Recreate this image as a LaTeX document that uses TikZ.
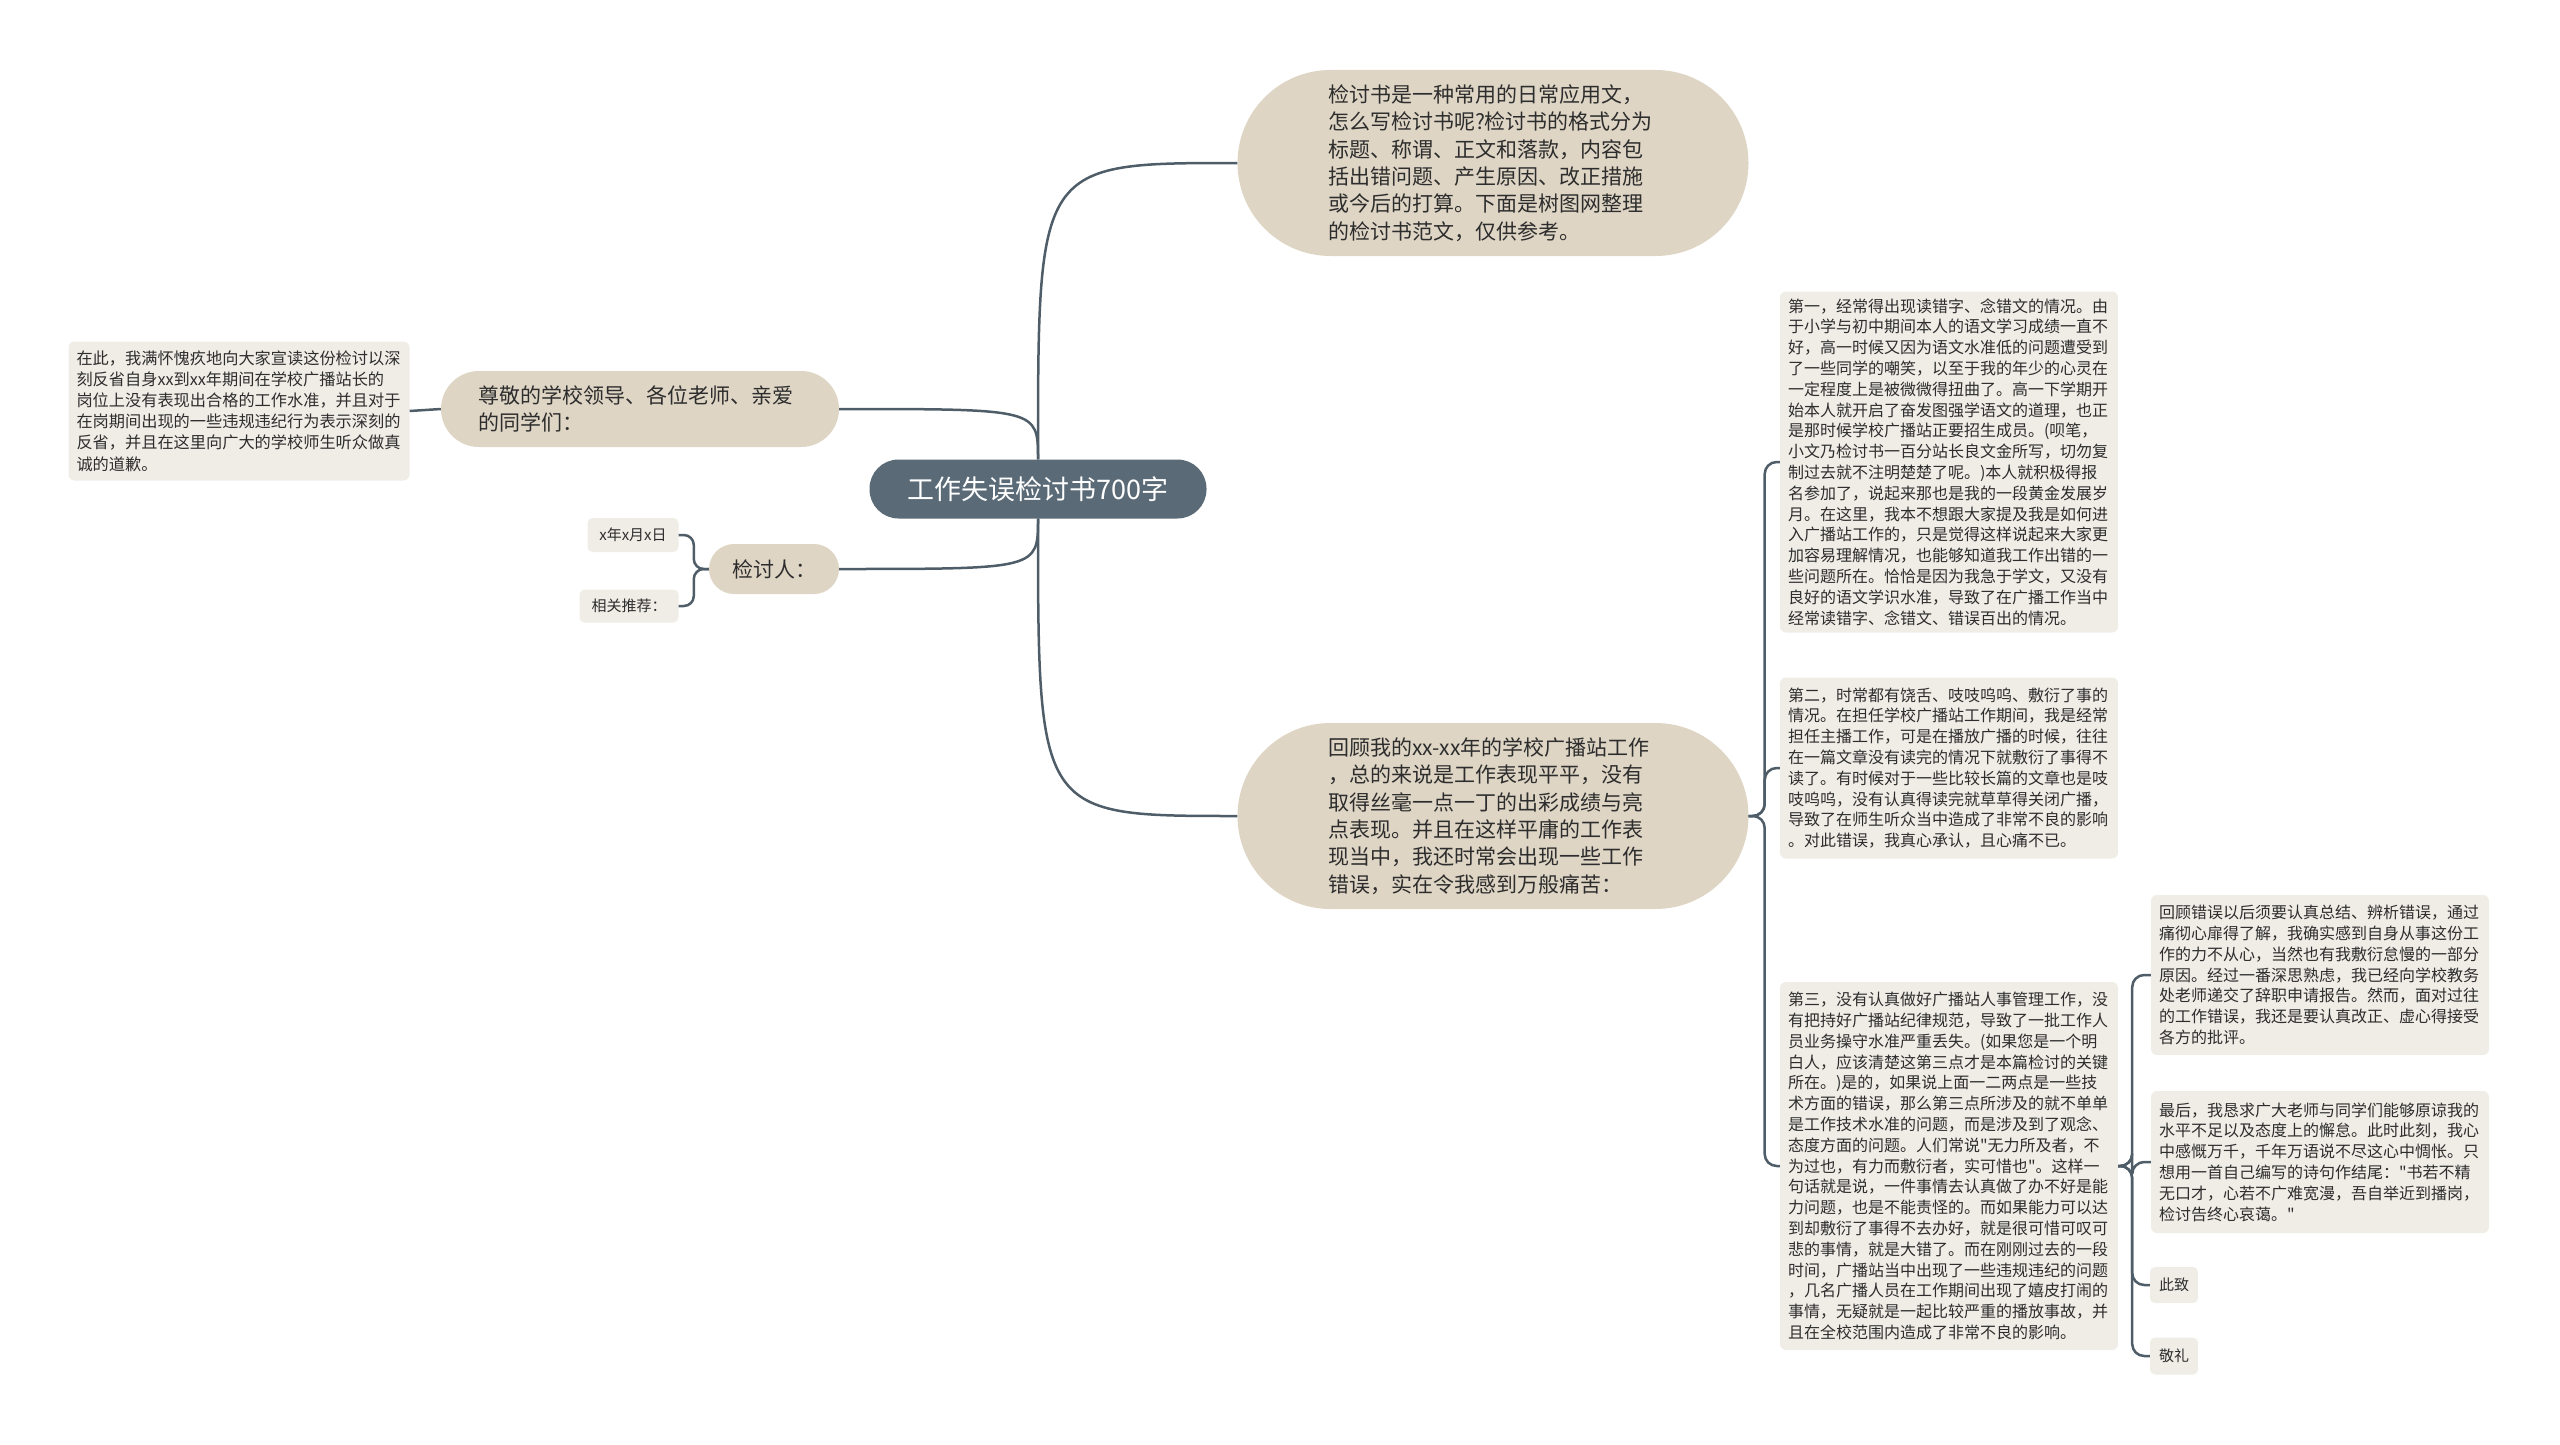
\documentclass[tikz,border=0pt]{standalone}
\usepackage{fontspec}
\setmainfont{Noto Sans CJK SC}
\definecolor{rootfill}{RGB}{90,106,118}
\definecolor{mainfill}{RGB}{222,213,197}
\definecolor{leaffill}{RGB}{240,237,231}
\definecolor{linecol}{RGB}{78,93,104}
\definecolor{textcol}{RGB}{45,45,45}

\begin{document}
\begin{tikzpicture}[x=1pt, y=-1pt,
    link/.style={draw=linecol, line width=2.5pt},
    rootbox/.style={fill=rootfill, text=white, rounded corners=29pt, minimum width=337pt, minimum height=59pt, font=\fontsize{27}{30}\selectfont},
    mainbox/.style={fill=mainfill, text=textcol, rounded corners=93pt, text width=330pt, inner xsep=90.5pt, minimum height=186pt, align=left, font=\fontsize{21}{27.4}\selectfont},
    leafbox/.style={fill=leaffill, text=textcol, rounded corners=6pt, text width=322pt, inner xsep=8pt, align=left, font=\fontsize{16}{20.8}\selectfont},
    tagbox/.style={fill=leaffill, text=textcol, rounded corners=5pt, inner sep=0pt, font=\fontsize{15}{18}\selectfont}]
    \useasboundingbox (0,0) rectangle (2560,1445);

    \node[rootbox] (root) at (1038,489) {工作失误检讨书700字};

    \node[mainbox] (intro) at (1493,163) {检讨书是一种常用的日常应用文，\\怎么写检讨书呢?检讨书的格式分为\\标题、称谓、正文和落款，内容包\\括出错问题、产生原因、改正措施\\或今后的打算。下面是树图网整理\\的检讨书范文，仅供参考。};
    \node[mainbox] (review) at (1493,816) {回顾我的xx-xx年的学校广播站工作\\，总的来说是工作表现平平，没有\\取得丝毫一点一丁的出彩成绩与亮\\点表现。并且在这样平庸的工作表\\现当中，我还时常会出现一些工作\\错误，实在令我感到万般痛苦：};
    \node[mainbox, text width=324pt, inner xsep=37pt, rounded corners=38pt, minimum height=76pt] (greet) at (640,409) {尊敬的学校领导、各位老师、亲爱\\的同学们：};
    \node[mainbox, text width=84pt, inner xsep=23pt, rounded corners=25pt, minimum height=50pt] (signer) at (774,569) {检讨人：};

    \node[leafbox, text width=325pt, minimum height=139pt, font=\fontsize{16.2}{21.2}\selectfont] (apology) at (239,411) {在此，我满怀愧疚地向大家宣读这份检讨以深\\刻反省自身xx到xx年期间在学校广播站长的\\岗位上没有表现出合格的工作水准，并且对于\\在岗期间出现的一些违规违纪行为表示深刻的\\反省，并且在这里向广大的学校师生听众做真\\诚的道歉。};
    \node[tagbox, minimum width=91pt, minimum height=34pt] (date) at (633,535) {x年x月x日};
    \node[tagbox, minimum width=99pt, minimum height=33pt] (related) at (629,606) {相关推荐：};

    \node[leafbox, minimum height=341pt] (first) at (1949,462) {第一，经常得出现读错字、念错文的情况。由\\于小学与初中期间本人的语文学习成绩一直不\\好，高一时候又因为语文水准低的问题遭受到\\了一些同学的嘲笑，以至于我的年少的心灵在\\一定程度上是被微微得扭曲了。高一下学期开\\始本人就开启了奋发图强学语文的道理，也正\\是那时候学校广播站正要招生成员。(呗笔，\\小文乃检讨书一百分站长良文金所写，切勿复\\制过去就不注明楚楚了呢。)本人就积极得报\\名参加了，说起来那也是我的一段黄金发展岁\\月。在这里，我本不想跟大家提及我是如何进\\入广播站工作的，只是觉得这样说起来大家更\\加容易理解情况，也能够知道我工作出错的一\\些问题所在。恰恰是因为我急于学文，又没有\\良好的语文学识水准，导致了在广播工作当中\\经常读错字、念错文、错误百出的情况。};
    \node[leafbox, minimum height=181pt] (second) at (1949,768) {第二，时常都有饶舌、吱吱呜呜、敷衍了事的\\情况。在担任学校广播站工作期间，我是经常\\担任主播工作，可是在播放广播的时候，往往\\在一篇文章没有读完的情况下就敷衍了事得不\\读了。有时候对于一些比较长篇的文章也是吱\\吱呜呜，没有认真得读完就草草得关闭广播，\\导致了在师生听众当中造成了非常不良的影响\\。对此错误，我真心承认，且心痛不已。};
    \node[leafbox, minimum height=368pt] (third) at (1949,1166) {第三，没有认真做好广播站人事管理工作，没\\有把持好广播站纪律规范，导致了一批工作人\\员业务操守水准严重丢失。(如果您是一个明\\白人，应该清楚这第三点才是本篇检讨的关键\\所在。)是的，如果说上面一二两点是一些技\\术方面的错误，那么第三点所涉及的就不单单\\是工作技术水准的问题，而是涉及到了观念、\\态度方面的问题。人们常说\textquotedbl 无力所及者，不\\为过也，有力而敷衍者，实可惜也\textquotedbl 。这样一\\句话就是说，一件事情去认真做了办不好是能\\力问题，也是不能责怪的。而如果能力可以达\\到却敷衍了事得不去办好，就是很可惜可叹可\\悲的事情，就是大错了。而在刚刚过去的一段\\时间，广播站当中出现了一些违规违纪的问题\\，几名广播人员在工作期间出现了嬉皮打闹的\\事情，无疑就是一起比较严重的播放事故，并\\且在全校范围内造成了非常不良的影响。};

    \node[leafbox, minimum height=160pt] (reflect) at (2320,975) {回顾错误以后须要认真总结、辨析错误，通过\\痛彻心扉得了解，我确实感到自身从事这份工\\作的力不从心，当然也有我敷衍怠慢的一部分\\原因。经过一番深思熟虑，我已经向学校教务\\处老师递交了辞职申请报告。然而，面对过往\\的工作错误，我还是要认真改正、虚心得接受\\各方的批评。};
    \node[leafbox, minimum height=142pt] (last) at (2320,1162) {最后，我恳求广大老师与同学们能够原谅我的\\水平不足以及态度上的懈怠。此时此刻，我心\\中感慨万千，千年万语说不尽这心中惆怅。只\\想用一首自己编写的诗句作结尾：\textquotedbl 书若不精\\无口才，心若不广难宽漫，吾自举近到播岗，\\检讨告终心哀蔼。\textquotedbl};
    \node[tagbox, minimum width=48pt, minimum height=36pt] (cizhi) at (2174,1285) {此致};
    \node[tagbox, minimum width=48pt, minimum height=37pt] (jingli) at (2174,1356) {敬礼};

    \draw[link] (root.north) .. controls (root.north |- intro.west) .. (intro.west);
    \draw[link] (root.north) .. controls (root.north |- greet.east) .. (greet.east);
    \draw[link] (root.south) .. controls (root.south |- review.west) .. (review.west);
    \draw[link] (root.south) .. controls (root.south |- signer.east) .. (signer.east);
    \draw[link] (greet.west) -- (apology.east);
    \foreach \n in {date, related} {
        \draw[link, rounded corners=10pt] (signer.west) -- ++(-15,0) |- (\n.east);
    }
    \foreach \n in {first, second, third} {
        \draw[link, rounded corners=12pt] (review.east) -- ++(16,0) |- (\n.west);
    }
    \foreach \n in {reflect, last, cizhi, jingli} {
        \draw[link, rounded corners=12pt] (third.east) -- ++(14,0) |- (\n.west);
    }
\end{tikzpicture}
\end{document}
